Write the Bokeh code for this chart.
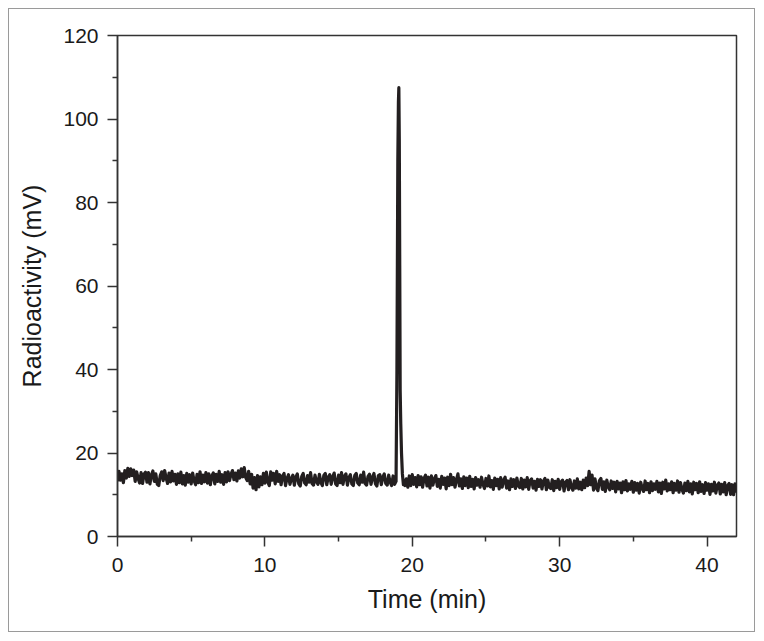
from bokeh.plotting import figure
from bokeh.models import FixedTicker, Range1d
from bokeh.embed import file_html
from bokeh.resources import INLINE

# --- data ---
# baseline before the peak, sampled every 0.1 min from 0.0 to 18.8
base1_values = [
    13.2, 15.6, 13.5, 15.0, 12.9, 15.8, 14.0, 16.3, 14.4, 16.2,
    14.6, 15.9, 13.2, 15.5, 13.9, 12.8, 15.3, 12.7, 14.9, 15.4,
    13.0, 15.3, 12.6, 14.7, 15.7, 13.2, 15.0, 12.5, 12.2, 14.6,
    15.5, 13.4, 15.8, 14.0, 12.7, 15.2, 13.1, 15.6, 13.3, 14.9,
    12.5, 15.0, 12.9, 15.4, 12.6, 14.6, 12.3, 15.1, 13.0, 14.8,
    12.6, 15.2, 13.3, 12.4, 14.9, 12.9, 15.5, 12.7, 14.7, 13.1,
    15.3, 12.8, 15.0, 12.4, 14.5, 15.2, 12.6, 14.9, 13.2, 15.6,
    13.0, 14.8, 12.5, 15.3, 13.1, 15.5, 13.4, 14.9, 15.8, 13.6,
    15.2, 13.3, 15.7, 14.0, 16.2, 14.3, 16.5, 14.1, 13.4, 15.6,
    12.6, 14.9, 11.6, 14.1, 11.2, 14.6, 11.9, 14.3, 12.4, 15.1,
    12.8, 15.4, 13.0, 12.2, 15.5, 13.5, 15.1, 12.6, 15.6, 13.2,
    14.8, 12.4, 14.5, 15.1, 12.2, 13.9, 14.8, 12.5, 13.8, 14.7,
    12.3, 14.2, 15.0, 12.6, 12.1, 14.4, 15.1, 12.8, 12.4, 14.6,
    13.0, 15.3, 12.7, 12.3, 14.7, 13.1, 12.5, 14.9, 12.9, 12.2,
    14.6, 15.1, 12.4, 14.2, 14.8, 12.5, 14.3, 15.2, 12.6, 12.2,
    14.7, 12.9, 15.3, 12.5, 14.4, 15.0, 12.3, 14.1, 14.8, 12.6,
    12.2, 14.6, 15.1, 12.8, 12.4, 14.7, 13.0, 15.4, 12.7, 12.3,
    14.4, 14.9, 12.5, 14.1, 15.1, 12.6, 12.1, 14.6, 14.8, 12.4,
    14.2, 15.0, 12.7, 12.3, 14.7, 13.0, 12.2, 14.5, 12.5,
]
# the radioactive peak
peak_times = [18.9, 18.96, 19.02, 19.06, 19.09, 19.12, 19.15, 19.18, 19.22, 19.27, 19.33, 19.4, 19.45, 19.5]
peak_values = [13.2, 40.0, 90.0, 104.0, 107.5, 95.0, 65.0, 35.0, 27.0, 20.0, 15.0, 12.4, 13.5, 12.2]
# baseline after the peak, sampled every 0.1 min from 19.6 to 42.0
base2_values = [
    13.8, 11.8, 14.5, 12.2, 14.8, 12.5, 14.1, 11.9, 14.6, 12.4,
    14.3, 11.8, 13.9, 14.7, 12.1, 14.2, 11.6, 14.5, 12.3, 13.8,
    14.6, 12.0, 13.7, 11.6, 14.4, 12.5, 14.0, 11.4, 14.2, 12.2,
    14.9, 12.4, 14.1, 11.8, 13.6, 15.0, 12.1, 13.8, 11.5, 14.3,
    12.2, 14.0, 11.7, 14.4, 12.0, 13.7, 11.4, 14.1, 12.3, 13.6,
    11.8, 14.2, 12.5, 11.5, 13.9, 12.1, 14.5, 11.9, 13.4, 11.3,
    14.0, 12.2, 13.7, 11.4, 14.1, 11.8, 13.5, 14.2, 11.6, 13.3,
    11.2, 13.8, 12.0, 13.6, 11.5, 14.0, 12.1, 11.7, 13.9, 11.4,
    13.5, 11.9, 14.1, 11.3, 13.4, 13.8, 11.6, 13.2, 11.1, 13.7,
    12.0, 13.6, 11.4, 13.3, 13.9, 11.2, 13.5, 11.8, 11.5, 13.6,
    11.0, 13.2, 11.7, 13.7, 11.3, 13.1, 13.5, 10.9, 13.0, 13.4,
    11.2, 13.6, 11.8, 11.1, 13.3, 11.6, 13.8, 11.4, 13.0, 11.2,
    13.5, 11.7, 14.0, 12.2, 15.6, 12.4, 14.7, 11.1, 13.8, 11.6,
    11.0, 13.4, 13.9, 11.3, 13.1, 10.8, 13.5, 11.9, 11.2, 13.3,
    11.5, 13.0, 10.7, 13.2, 11.4, 12.8, 10.5, 13.1, 11.2, 13.4,
    10.9, 12.6, 11.3, 13.2, 10.6, 12.9, 11.1, 12.7, 10.4, 13.0,
    11.5, 10.8, 13.3, 11.2, 12.7, 10.5, 13.1, 11.0, 12.6, 11.3,
    13.2, 10.7, 12.8, 10.3, 13.0, 11.4, 13.5, 10.9, 12.6, 11.2,
    13.1, 10.5, 12.7, 11.1, 13.3, 10.6, 12.9, 11.3, 10.4, 12.8,
    11.0, 13.2, 10.7, 12.6, 10.2, 13.0, 11.2, 12.7, 10.5, 13.1,
    10.8, 12.4, 10.3, 12.9, 11.1, 12.6, 10.1, 12.5, 10.9, 13.0,
    10.4, 12.3, 12.8, 10.2, 12.5, 10.7, 12.9, 10.0, 12.2, 12.7,
    10.1, 12.4, 10.0, 12.6, 10.5,
]
x_ticks = [0, 10, 20, 30, 40]
x_minor = [5, 15, 25, 35]
y_ticks = [0, 20, 40, 60, 80, 100, 120]
y_minor = [10, 30, 50, 70, 90, 110]

# sampling times of the baseline segments (0.1 min step)
base1_times = [round(0.1 * i, 2) for i in range(len(base1_values))]
base2_times = [round(19.6 + 0.1 * i, 2) for i in range(len(base2_values))]

times = base1_times + peak_times + base2_times
values = base1_values + peak_values + base2_values

p = figure(width=747, height=624, output_backend="svg", toolbar_location=None,
           x_range=Range1d(0, 42), y_range=Range1d(0, 120),
           min_border_left=108, min_border_right=20, min_border_top=26,
           min_border_bottom=97)
p.styles = {"border": "1px solid #9a9a9a", "box-sizing": "border-box",
            "margin-left": "8px", "margin-top": "8px"}

p.line(times, values, line_color="#231f20", line_width=3.2, line_join="round")

p.xgrid.visible = False
p.ygrid.visible = False
p.outline_line_color = "#333333"
p.outline_line_width = 1.5
p.background_fill_color = "white"
p.border_fill_color = "white"

for ax in (p.xaxis[0], p.yaxis[0]):
    ax.axis_line_color = "#333333"
    ax.axis_line_width = 1.5
    ax.major_tick_line_color = "#333333"
    ax.minor_tick_line_color = "#333333"
    ax.major_tick_line_width = 1.5
    ax.minor_tick_line_width = 1.5
    ax.major_tick_out = 10
    ax.major_tick_in = 0
    ax.minor_tick_out = 5
    ax.minor_tick_in = 0
    ax.major_label_text_font = "Liberation Sans"
    ax.major_label_text_font_size = "21px"
    ax.major_label_text_color = "#1a1a1a"
    ax.axis_label_text_font = "Liberation Sans"
    ax.axis_label_text_font_size = "25px"
    ax.axis_label_text_font_style = "normal"
    ax.axis_label_text_color = "#1a1a1a"

p.xaxis[0].major_label_standoff = 11
p.yaxis[0].major_label_standoff = 9
p.xaxis[0].ticker = FixedTicker(ticks=x_ticks, minor_ticks=x_minor)
p.yaxis[0].ticker = FixedTicker(ticks=y_ticks, minor_ticks=y_minor)
p.xaxis[0].axis_label = "Time (min)"
p.yaxis[0].axis_label = "Radioactivity (mV)"
p.xaxis[0].axis_label_standoff = 10
p.yaxis[0].axis_label_standoff = 14

open("out.html", "w").write(file_html(p, INLINE))
